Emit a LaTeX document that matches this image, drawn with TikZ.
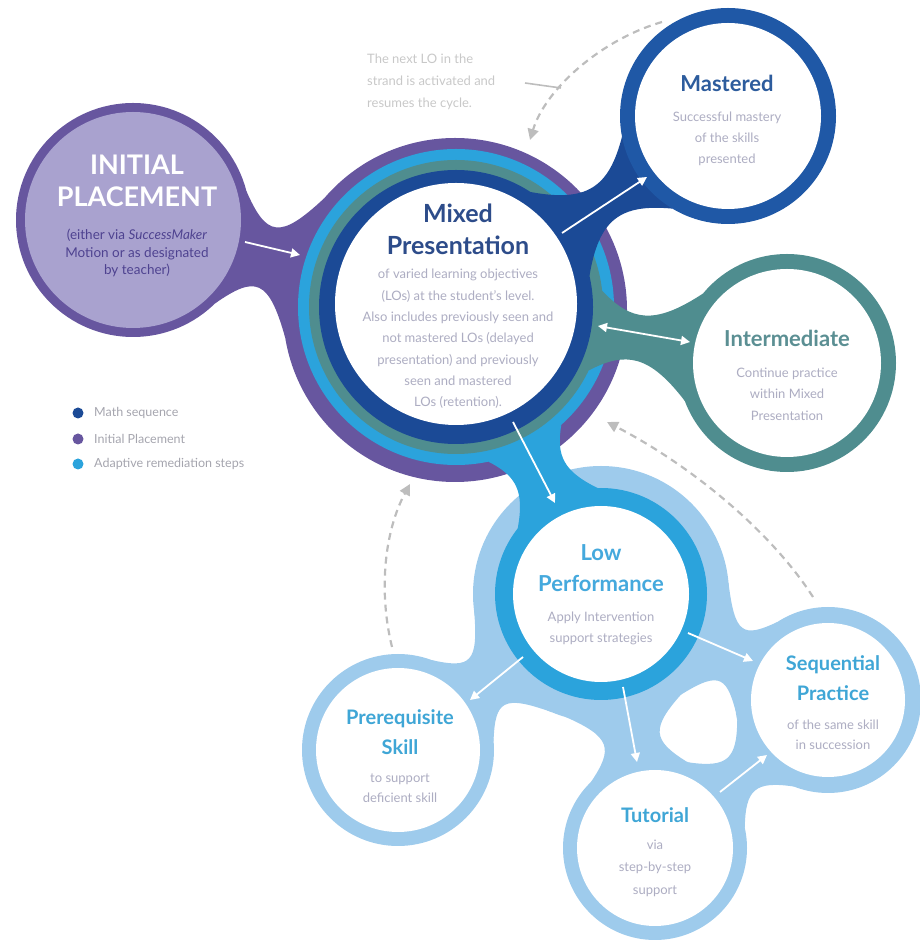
\documentclass[tikz,border=0pt]{standalone}
\usepackage{fontspec}
\setmainfont{Lato}
\usetikzlibrary{calc,arrows.meta}
\definecolor{purpring}{HTML}{67569F}
\definecolor{lavender}{HTML}{A9A2CF}
\definecolor{purptext}{HTML}{4E4290}
\definecolor{mixblue}{HTML}{1B4A96}
\definecolor{mastblue}{HTML}{1F58A6}
\definecolor{tealc}{HTML}{4F8D8F}
\definecolor{medblue}{HTML}{2BA3DC}
\definecolor{paleblue}{HTML}{9ECBEC}
\definecolor{mixtitle}{HTML}{2D4C8A}
\definecolor{masttitle}{HTML}{2D5C9D}
\definecolor{inttitle}{HTML}{5B8F93}
\definecolor{lowtitle}{HTML}{45A9DD}
\definecolor{paletitle}{HTML}{3FA6D6}
\definecolor{bodygray}{HTML}{ADADC2}
\definecolor{dashgray}{HTML}{BDBDBD}
\definecolor{notegray}{HTML}{C8C8C8}
\definecolor{leggray}{HTML}{A5A5AE}
\newcommand{\neck}[8]{%
  \fill[#8] let \p1=(#1), \p2=(#4), \n1={atan2(\y2-\y1,\x2-\x1)},
     \n2={veclen(\x2-\x1,\y2-\y1)}, \n3={0.35*(\n2-#2-#5)} in
   ($(#1)+(\n1+#3:#2)$)
   .. controls ($(#1)+(\n1:#2+\n3)+(\n1+90:#7)$) and ($(#4)+(\n1+180:#5+\n3)+(\n1+90:#7)$) ..
   ($(#4)+(\n1+180-#6:#5)$)
   -- ($(#4)+(\n1+180+#6:#5)$)
   .. controls ($(#4)+(\n1+180:#5+\n3)+(\n1-90:#7)$) and ($(#1)+(\n1:#2+\n3)+(\n1-90:#7)$) ..
   ($(#1)+(\n1-#3:#2)$) -- cycle;
}
\begin{document}
\begin{tikzpicture}[x=1pt,y=1pt,
  title/.style={font=\fontsize{24}{31}\selectfont\bfseries, align=center, inner sep=0pt},
  body/.style={font=\fontsize{13}{21.3}\selectfont, text=bodygray, align=center, inner sep=0pt},
  warrow/.style={white, line width=1.8pt, -{Triangle[length=9pt,width=9pt]}},
  wdarrow/.style={white, line width=1.8pt, {Triangle[length=9pt,width=9pt]}-{Triangle[length=9pt,width=9pt]}},
  dasharrow/.style={dashgray, line width=2.2pt, dash pattern=on 7pt off 5pt, -{Triangle[length=11pt,width=11pt]}},
  legdot/.style={circle, inner sep=0pt, minimum size=11pt},
  legtext/.style={font=\fontsize{12.5}{14}\selectfont, text=leggray, anchor=west, inner sep=0pt}]
\useasboundingbox (0,0) rectangle (919,940);
% centres
\coordinate (ini) at (133,720);
\coordinate (mixP) at (455,630);
\coordinate (mix) at (456,633);
\coordinate (mixW) at (456,636);
\coordinate (mast) at (728,824);
\coordinate (inter) at (787,577);
\coordinate (low) at (601,346);
\coordinate (pre) at (398,190);
\coordinate (tut) at (655,92);
\coordinate (seq) at (828,240);
% pale remediation network
\neck{low}{128}{30}{pre}{96}{32}{20}{paleblue}
\neck{low}{128}{28}{tut}{92}{32}{20}{paleblue}
\neck{low}{128}{30}{seq}{93}{32}{20}{paleblue}
\neck{tut}{92}{28}{seq}{93}{28}{14}{paleblue}
\fill[paleblue] (low) circle (128);
\fill[paleblue] (pre) circle (96);
\fill[paleblue] (tut) circle (92);
\fill[paleblue] (seq) circle (93);
% initial placement
\neck{ini}{117}{30}{mixP}{172}{25}{20}{purpring}
\fill[purpring] (ini) circle (117);
% mixed presentation rings
\fill[purpring] (mixP) circle (172);
\fill[medblue] (mix) circle (158);
\fill[tealc] (mix) circle (147);
\fill[mixblue] (mix) circle (137);
% necks from mixed
\neck{mix}{137}{22}{mast}{108}{24}{10}{mixblue}
\neck{mix}{147}{16}{inter}{109}{30}{15}{tealc}
\neck{mix}{158}{15}{low}{106}{25}{22}{medblue}
% outer rings of other circles
\fill[mastblue] (mast) circle (108);
\fill[tealc] (inter) circle (109);
\fill[medblue] (low) circle (106);
% inner fills
\fill[lavender] (ini) circle (108);
\fill[white] (mixW) circle (121);
\fill[white] (mast) circle (93);
\fill[white] (inter) circle (94);
\fill[white] (low) circle (88);
\fill[white] (pre) circle (82);
\fill[white] (tut) circle (78);
\fill[white] (seq) circle (77);
% white arrows
\coordinate (a1s) at (245,698); \coordinate (a1e) at (300,685);
\coordinate (a2s) at (562,707); \coordinate (a2e) at (647,763);
\coordinate (a3s) at (598,614); \coordinate (a3e) at (690,598);
\coordinate (a4s) at (513,518); \coordinate (a4e) at (555,437);
\coordinate (a5s) at (523,283); \coordinate (a5e) at (470,240);
\coordinate (a6s) at (623,253); \coordinate (a6e) at (637,178);
\coordinate (a7s) at (688,307); \coordinate (a7e) at (753,279);
\coordinate (a8s) at (720,148); \coordinate (a8e) at (767,185);
\draw[warrow] (a1s) -- (a1e);
\draw[warrow] (a2s) -- (a2e);
\draw[wdarrow] (a3s) -- (a3e);
\draw[warrow] (a4s) -- (a4e);
\draw[warrow] (a5s) -- (a5e);
\draw[warrow] (a6s) -- (a6e);
\draw[warrow] (a7s) -- (a7e);
\draw[warrow] (a8s) -- (a8e);
% dashed return arrows
\coordinate (d1s) at (662,918); \coordinate (d1e) at (530,800);
\coordinate (d2s) at (813,343); \coordinate (d2e) at (607,518);
\coordinate (d3s) at (392,293); \coordinate (d3e) at (410,456);
\draw[dasharrow] (d1s) .. controls (600,900) and (545,850) .. (d1e);
\draw[dasharrow] (d2s) .. controls (770,410) and (690,475) .. (d2e);
\draw[dasharrow] (d3s) .. controls (378,350) and (385,410) .. (d3e);
% note
\node[font=\fontsize{13}{22}\selectfont, text=notegray, align=left, anchor=west, inner sep=0pt] (note) at (367,858)
  {The next LO in the\\strand is activated and\\resumes the cycle.};
\coordinate (ldr) at (561,852);
\draw[dashgray, line width=1.6pt] (525,857) -- (ldr);
% texts
\node[title, text=white, font=\fontsize{27}{32}\selectfont\bfseries] (tini) at (137,759) {INITIAL\\PLACEMENT};
\node[body, text=purptext, font=\fontsize{13.5}{17.5}\selectfont] (bini) at (137,687)
  {(either via \textit{SuccessMaker}\\Motion or as designated\\by teacher)};
\node[title, text=mixtitle, font=\fontsize{25}{32}\selectfont\bfseries] (tmix) at (458,711) {Mixed\\Presentation};
\node[body] (bmix) at (458,601) {of varied learning objectives\\(LOs) at the student's level.\\Also includes previously seen and\\not mastered LOs (delayed\\presentation) and previously\\seen and mastered\\LOs (retention).};
\node[title, text=masttitle, font=\fontsize{22}{28}\selectfont\bfseries] (tmast) at (727,857) {Mastered};
\node[body] (bmast) at (727,801) {Successful mastery\\of the skills\\presented};
\node[title, text=inttitle, font=\fontsize{22}{28}\selectfont\bfseries] (tint) at (787,602) {Intermediate};
\node[body] (bint) at (787,546) {Continue practice\\within Mixed\\Presentation};
\node[title, text=lowtitle, font=\fontsize{22}{31}\selectfont\bfseries] (tlow) at (601,372) {Low\\Performance};
\node[body, font=\fontsize{13}{21}\selectfont] (blow) at (601,312) {Apply Intervention\\support strategies};
\node[title, text=paletitle, font=\fontsize{20}{30}\selectfont\bfseries] (tpre) at (400,208) {Prerequisite\\Skill};
\node[body, font=\fontsize{13}{20}\selectfont] (bpre) at (400,152) {to support\\deficient skill};
\node[title, text=paletitle, font=\fontsize{20}{28}\selectfont\bfseries] (ttut) at (655,125) {Tutorial};
\node[body, font=\fontsize{13}{22.5}\selectfont] (btut) at (655,72) {via\\step-by-step\\support};
\node[title, text=paletitle, font=\fontsize{20}{30}\selectfont\bfseries] (tseq) at (833,262) {Sequential\\Practice};
\node[body, font=\fontsize{13}{20}\selectfont] (bseq) at (833,205) {of the same skill\\in succession};
% legend
\node[legdot, fill=mixblue] (l1) at (78,527) {};
\node[legdot, fill=purpring] (l2) at (78,501) {};
\node[legdot, fill=medblue] (l3) at (78,476) {};
\node[legtext] (lt1) at (94,527) {Math sequence};
\node[legtext] (lt2) at (94,501) {Initial Placement};
\node[legtext] (lt3) at (94,476) {Adaptive remediation steps};
\end{tikzpicture}
\end{document}
